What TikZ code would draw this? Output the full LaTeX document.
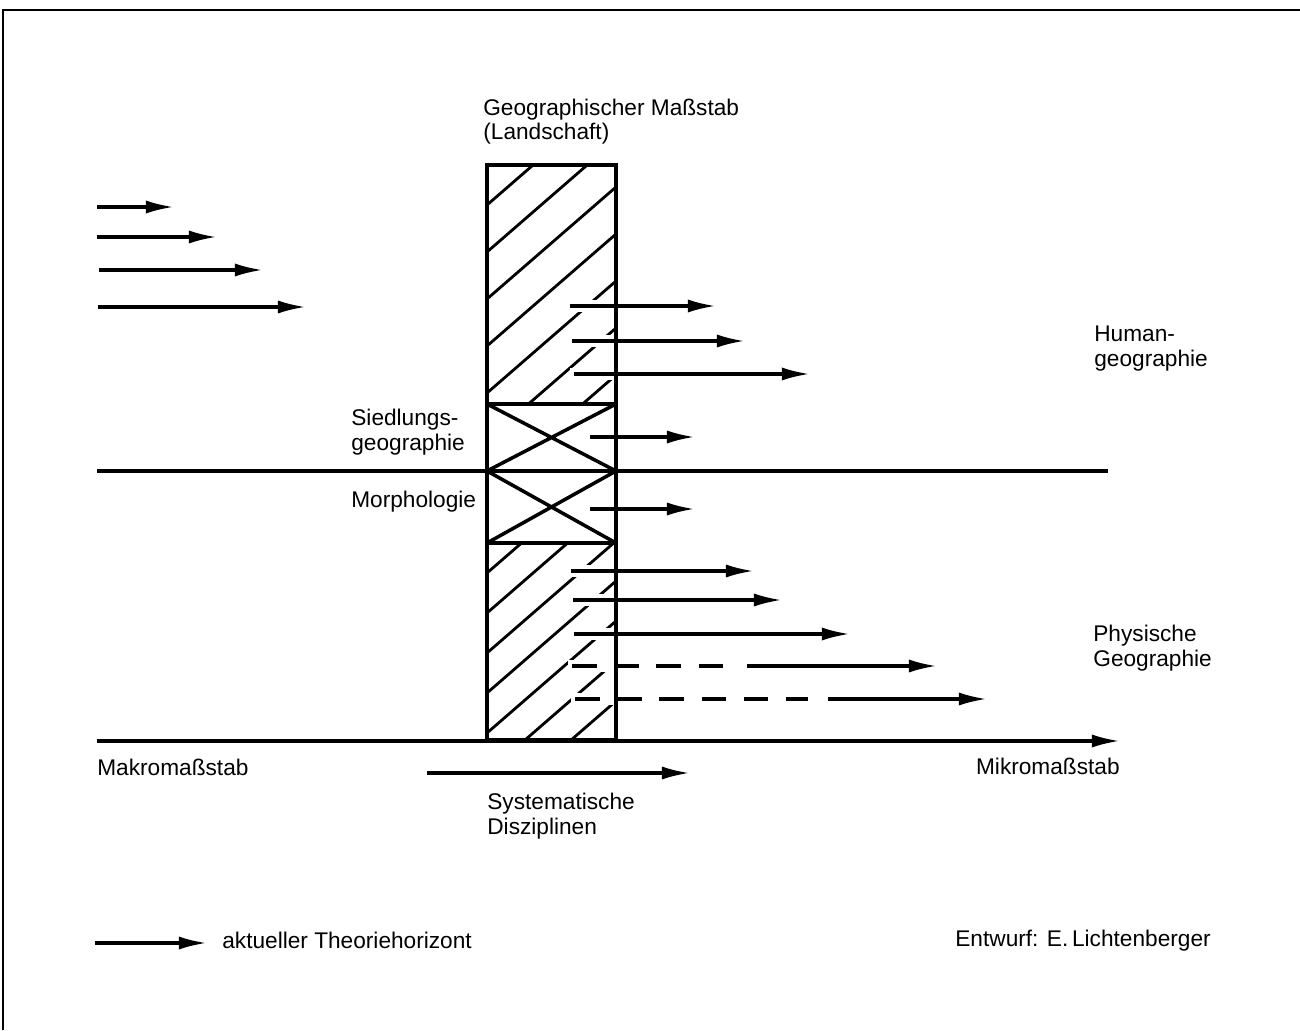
\documentclass[tikz,border=0pt]{standalone}
\usepackage{fontspec}
\setmainfont{Liberation Sans}
\usetikzlibrary{arrows.meta}

\begin{document}
\begin{tikzpicture}[x=0.02cm, y=-0.02cm,
  pfeil/.style={line width=1.9pt, -{Latex[length=16pt, width=7.5pt]}},
  strich/.style={line width=1.9pt, dash pattern=on 14pt off 10pt},
  halo/.style={draw=white, line width=7pt},
  schraff/.style={line width=1.6pt},
  rahmen/.style={line width=2pt},
  txt/.style={anchor=base west, inner sep=0pt, align=left, font=\fontsize{12.9}{14.2}\selectfont}]
  \useasboundingbox (0,0) rectangle (1300,1030);

  % frame
  \draw[line width=1.3pt] (3,1030) -- (3,10) -- (1300,10);

  % column corners
  \coordinate (sl) at (487,165);
  \coordinate (sr) at (616,165);
  \coordinate (ol) at (487,404);
  \coordinate (or) at (616,404);
  \coordinate (ml) at (487,471);
  \coordinate (mr) at (616,471);
  \coordinate (ul) at (487,543);
  \coordinate (ur) at (616,543);
  \coordinate (bl) at (487,740);
  \coordinate (br) at (616,740);

  % hatching, upper part
  \begin{scope}
    \clip (sl) rectangle (or);
    \foreach \c in {205,252,299,346,393,440,487}
      \draw[schraff] (487,\c) -- (616,\c-112);
  \end{scope}
  % hatching, lower part
  \begin{scope}
    \clip (ul) rectangle (br);
    \foreach \c in {573,613,653,693,733,773,813,853}
      \draw[schraff] (487,\c) -- (616,\c-112);
  \end{scope}

  % arrow starts and ends
  \foreach \n/\xa/\ya/\xb in {r1/570/306/716, r2/572/341/745, r3/574/374/810,
      r4/590/437/695, r5/590/509/695, r6/571/571/754, r7/573/600/782,
      r8/574/634/850, d1/572/666/725, d2/575/699/808, e1/747/666/937,
      e2/828/699/987, l1/97/207/174, l2/97/237/217, l3/99/270/263,
      l4/98/307/306, ax/97/741/1120, sy/427/773/690, lg/95/943/207} {
    \coordinate (\n a) at (\xa,\ya);
    \coordinate (\n b) at (\xb,\ya);
  }

  % gaps in the hatching round the arrows
  \foreach \n in {r1,r2,r3,r6,r7,r8,d1,d2}
    \draw[halo] ([xshift=-2]\n a) -- (\n a -| sr);

  % column
  \draw[rahmen] (sl) rectangle (br);
  \draw[rahmen] (ol) -- (or) (ul) -- (ur);
  \draw[rahmen] (ol) -- (mr) (ml) -- (or);
  \draw[rahmen] (ml) -- (ur) (ul) -- (mr);
  \draw[rahmen] (97,471) -- (1108,471);

  % arrows
  \foreach \n in {r1,r2,r3,r4,r5,r6,r7,r8,e1,e2,l1,l2,l3,l4,ax,sy,lg}
    \draw[pfeil] (\n a) -- (\n b);
  \foreach \n in {d1,d2}
    \draw[strich] (\n a) -- (\n b);

  % labels (base = last line)
  \node[txt] (geo) at (483,140) {Geographischer Maßstab\\(Landschaft)};
  \node[txt] (human) at (1094,366) {Human-\\geographie};
  \node[txt] (siedl) at (351,450) {Siedlungs-\\geographie};
  \node[txt] (morph) at (351,507) {Morphologie};
  \node[txt] (phys) at (1093,666) {Physische\\Geographie};
  \node[txt] (makro) at (97,775) {Makromaßstab};
  \node[txt, anchor=base east] (mikro) at (1120,774) {Mikromaßstab};
  \node[txt] (syst) at (487,834) {Systematische\\Disziplinen};
  \node[txt] (legende) at (222,948) {aktueller Theoriehorizont};
  \node[txt] (entwurf) at (955,946) {Entwurf: E.\,Lichtenberger};
\end{tikzpicture}
\end{document}
